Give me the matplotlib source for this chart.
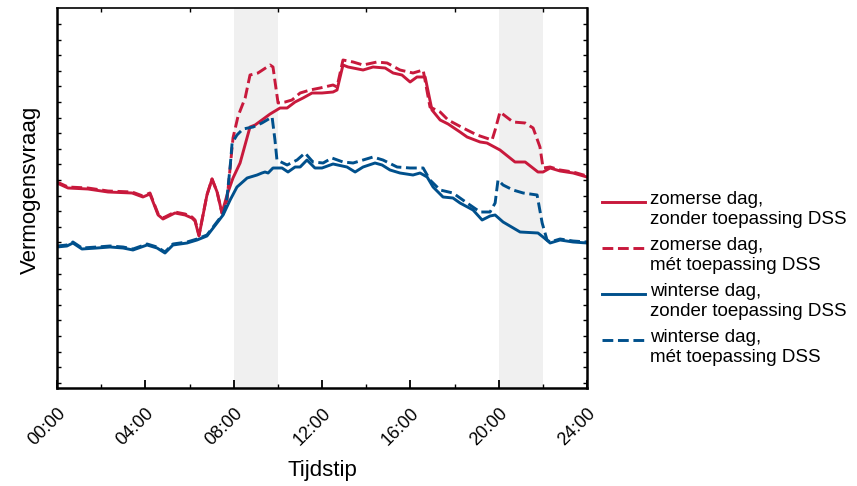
import numpy as np
import matplotlib
matplotlib.use("Agg")
import matplotlib.pyplot as plt
from matplotlib.lines import Line2D
from matplotlib.ticker import MultipleLocator, FixedLocator, FuncFormatter

plt.rcParams['font.family'] = ['Liberation Sans', 'DejaVu Sans']

# ---- data (time in hours, demand in arbitrary units) ----
zomer_zonder_t = [0, 0.50, 1.40, 2.31, 3.40, 3.89, 4.21, 4.58, 4.80, 5.34, 5.80, 6.11, 6.25, 6.43,
                  6.79, 7.02, 7.25, 7.47, 7.70, 7.97, 8.29, 8.74, 8.97, 9.28, 9.65, 10.10, 10.42,
                  10.78, 11.14, 11.55, 12.00, 12.50, 12.68, 12.95, 13.18, 13.86, 14.31, 14.86,
                  15.22, 15.62, 15.99, 16.30, 16.67, 16.98, 17.35, 17.71, 18.25, 18.57, 19.16,
                  19.47, 20.06, 20.74, 21.20, 21.78, 22.01, 22.33, 22.78, 23.37, 24.00]
zomer_zonder_v = [205, 200, 199, 196, 195, 191, 194, 173, 169, 175, 173, 170, 167, 152,
                  193, 209, 196, 175, 193, 210, 225, 261, 263, 268, 274, 280, 280,
                  286, 290, 295, 295, 296, 298, 323, 321, 318, 321, 320,
                  315, 313, 306, 311, 311, 278, 268, 264, 256, 251, 246,
                  245, 238, 226, 226, 216, 216, 220, 217, 215, 211]

zomer_met_t = [0, 0.50, 1.40, 2.31, 3.40, 3.89, 4.21, 4.58, 4.80, 5.34, 5.80, 6.11, 6.25, 6.43,
               6.79, 7.02, 7.25, 7.47, 7.70, 7.97, 8.20, 8.52, 8.74, 9.10, 9.65, 9.78, 10.01,
               10.33, 10.64, 11.01, 11.46, 11.91, 12.50, 12.68, 12.95, 13.41, 13.86, 14.49,
               14.95, 15.53, 16.12, 16.58, 16.89, 17.35, 17.71, 18.39, 19.02, 19.70, 19.84,
               20.06, 20.65, 21.20, 21.56, 21.87, 22.01, 22.33, 22.78, 23.37, 24.00]
zomer_met_v = [206, 201, 200, 197, 196, 192, 195, 174, 170, 176, 174, 171, 168, 153,
               193, 209, 196, 175, 188, 250, 272, 290, 313, 315, 323, 321, 285,
               286, 288, 295, 298, 300, 303, 301, 328, 326, 323, 326,
               325, 318, 315, 318, 281, 276, 268, 260, 253, 248, 258,
               276, 266, 265, 260, 241, 220, 221, 218, 216, 212]

winter_zonder_t = [0, 0.45, 0.72, 1.13, 1.81, 2.40, 2.99, 3.44, 4.08, 4.53, 4.89, 5.25, 5.89,
                   6.34, 6.79, 7.07, 7.52, 7.84, 8.15, 8.61, 9.06, 9.28, 9.42, 9.56, 9.78,
                   10.19, 10.46, 10.78, 11.01, 11.32, 11.68, 12.00, 12.50, 13.13, 13.50, 13.86,
                   14.40, 14.72, 15.08, 15.53, 16.12, 16.44, 16.76, 17.03, 17.48, 17.93, 18.25,
                   18.84, 19.25, 19.61, 19.84, 20.20, 20.97, 21.78, 22.01, 22.33, 22.78, 23.37, 24.00]
winter_zonder_v = [141, 142, 145, 139, 140, 141, 140, 138, 143, 140, 135, 143, 145,
                   148, 152, 160, 173, 188, 201, 210, 213, 215, 216, 215, 220,
                   220, 216, 221, 221, 228, 220, 220, 224, 221, 216, 221,
                   225, 223, 218, 215, 213, 215, 211, 201, 191, 190, 185,
                   178, 168, 172, 173, 166, 156, 155, 151, 145, 148, 146, 145]

winter_met_t = [0, 0.45, 0.72, 1.13, 1.81, 2.40, 2.99, 3.44, 4.08, 4.53, 4.89, 5.25, 5.89,
                6.34, 6.79, 7.07, 7.52, 7.66, 7.84, 7.93, 8.15, 8.42, 8.88, 9.28, 9.74, 9.87,
                9.96, 10.42, 10.87, 11.23, 11.59, 12.05, 12.45, 12.95, 13.41, 13.86, 14.31,
                14.76, 15.40, 15.99, 16.58, 16.89, 17.35, 17.93, 18.57, 19.16, 19.61, 19.84,
                19.97, 20.20, 20.65, 21.11, 21.74, 21.97, 22.19, 22.33, 22.78, 23.37, 24.00]
winter_met_v = [142, 143, 146, 140, 141, 142, 141, 139, 144, 141, 136, 144, 146,
                149, 153, 161, 174, 183, 221, 245, 253, 259, 261, 265, 271, 248,
                228, 223, 228, 235, 226, 225, 230, 226, 225, 228, 231,
                228, 221, 220, 220, 208, 198, 195, 185, 176, 176, 185,
                208, 203, 198, 195, 193, 165, 148, 146, 149, 147, 146]

shaded_periods = [(8, 10), (20, 22)]
xtick_hours = [0, 4, 8, 12, 16, 20, 24]
xtick_labels = ["00:00", "04:00", "08:00", "12:00", "16:00", "20:00", "24:00"]
labels = ["zomerse dag,\nzonder toepassing DSS",
          "zomerse dag,\nmét toepassing DSS",
          "winterse dag,\nzonder toepassing DSS",
          "winterse dag,\nmét toepassing DSS"]

RED = "#c8193c"
BLUE = "#00508c"

W, H = 857, 486
fig = plt.figure(figsize=(W / 100, H / 100), dpi=100)
ax = fig.add_axes([57 / W, 1 - 388 / H, 530 / W, 380 / H])

for a, b in shaded_periods:
    ax.axvspan(a, b, color="#f0f0f0", lw=0, zorder=0)

lw = 2.1
series = [
    (zomer_zonder_t, zomer_zonder_v, RED, "-"),
    (zomer_met_t, zomer_met_v, RED, "--"),
    (winter_zonder_t, winter_zonder_v, BLUE, "-"),
    (winter_met_t, winter_met_v, BLUE, "--"),
]
for (t, v, c, ls), lab in zip(series, labels):
    ax.plot(t, v, color=c, lw=lw, ls=ls, label=lab)

ax.set_xlim(0, 24)
ax.set_ylim(0, 380)

ax.set_xticks(xtick_hours)
ax.set_xticklabels(xtick_labels, rotation=45, ha="right", rotation_mode="anchor", fontsize=13)
ax.xaxis.set_minor_locator(MultipleLocator(2))
ax.yaxis.set_major_locator(FixedLocator(np.arange(364, 0, -15.6)))
ax.yaxis.set_major_formatter(FuncFormatter(lambda v, p: ""))
ax.tick_params(axis="x", which="major", direction="in", length=6, width=1.3, top=False, pad=12)
ax.tick_params(axis="x", which="minor", direction="in", length=3, width=1.0, top=True)
ax.tick_params(axis="y", which="major", direction="in", length=3, width=1.0, left=True, right=True)

for s in ["left", "bottom", "right"]:
    ax.spines[s].set_linewidth(1.8)
ax.spines["top"].set_linewidth(1.2)

# axis titles placed at reference positions
fig.text(322 / W, 1 - 470 / H, "Tijdstip", fontsize=16, ha="center", va="center")
fig.text(30 / W, 1 - 190 / H, "Vermogensvraag", fontsize=16, ha="center", va="center",
         rotation=90)

# manual legend (handle aligned with first line of each two-line label)
leg_y = [202, 248, 294, 340]
for (t, v, c, ls), lab, yp in zip(series, labels, leg_y):
    yf = 1 - yp / H
    fig.add_artist(Line2D([602 / W, 645 / W], [yf, yf], color=c, lw=lw, ls=ls,
                          transform=fig.transFigure))
    fig.text(650 / W, 1 - (yp - 11) / H, lab, fontsize=13.5, va="top", ha="left",
             linespacing=1.2)

fig.savefig("out.png", dpi=100)
